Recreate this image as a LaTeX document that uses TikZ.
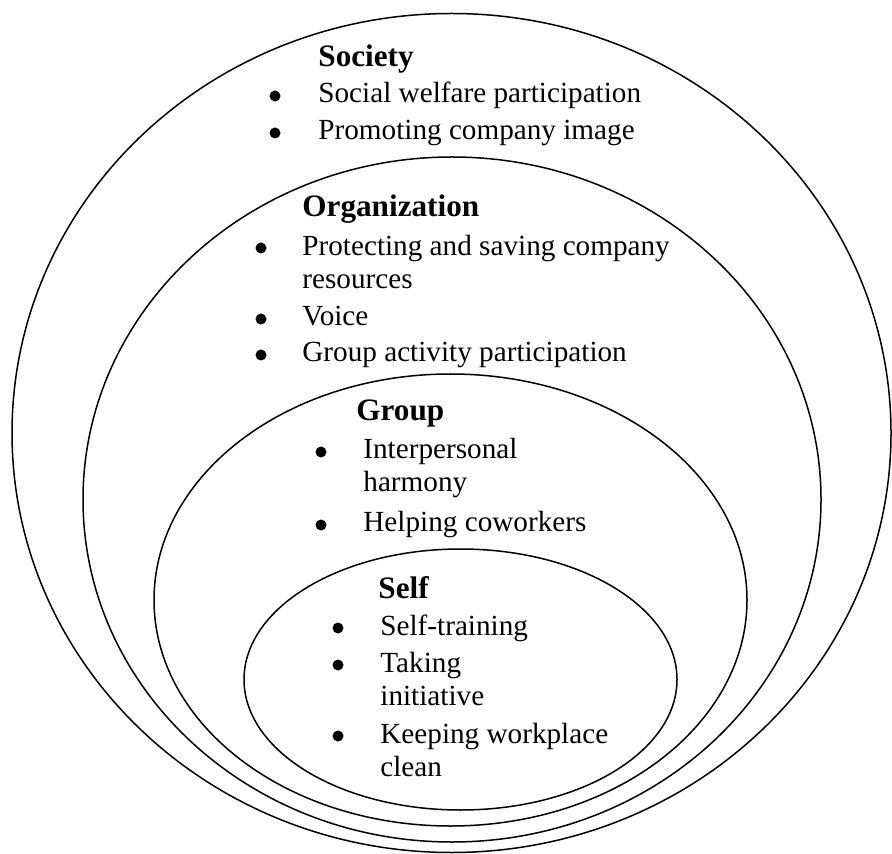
\documentclass[tikz,border=0pt]{standalone}
\usepackage{fontspec}
\setmainfont{Liberation Serif}
\usetikzlibrary{positioning}

\tikzset{
  ring/.style={draw=black,line width=0.75pt},
  head/.style={anchor=base west,inner sep=0pt,font=\fontsize{15.6}{18}\selectfont\bfseries},
  item/.style={anchor=base west,inner sep=0pt,align=left,font=\fontsize{14.6}{16.5}\selectfont},
  dot/.style={circle,fill=black,inner sep=0pt,minimum size=5.5pt}
}

\begin{document}
\begin{tikzpicture}[x=0.5pt,y=-0.5pt]
  \useasboundingbox (0,0) rectangle (892,854);

  % nested rings, outermost first
  \draw[ring] (451.5,433) ellipse [x radius=439.5,y radius=419.5];
  \draw[ring] (452,499.5) ellipse [x radius=369,y radius=342.5];
  \draw[ring] (450.5,600) ellipse [x radius=296.5,y radius=226];
  \draw[ring] (460.5,679.5) ellipse [x radius=216.5,y radius=130.5];

  % society
  \node[head] (society) at (318,67) {Society};
  \node[item] (soc1) at (318,103) {Social welfare participation};
  \node[item] (soc2) at (318,140) {Promoting company image};
  \node[dot] (dsoc1) at (275,96) {};
  \node[dot] (dsoc2) at (275,133) {};

  % organization (two-line items sit on their last baseline)
  \node[head] (org) at (302,217) {Organization};
  \node[item] (org1) at (302,289) {Protecting and saving company\\resources};
  \node[item] (org2) at (302,326) {Voice};
  \node[item] (org3) at (302,362) {Group activity participation};
  \node[dot] (dorg1) at (261,248) {};
  \node[dot] (dorg2) at (261,319) {};
  \node[dot] (dorg3) at (261,355) {};

  % group
  \node[head] (group) at (356,421) {Group};
  \node[item] (grp1) at (363,491) {Interpersonal\\harmony};
  \node[item] (grp2) at (363,531) {Helping coworkers};
  \node[dot] (dgrp1) at (321,452) {};
  \node[dot] (dgrp2) at (321,525) {};

  % self
  \node[head] (self) at (378,598) {Self};
  \node[item] (self1) at (380,635) {Self-training};
  \node[item] (self2) at (380,705) {Taking\\initiative};
  \node[item] (self3) at (380,776) {Keeping workplace\\clean};
  \node[dot] (dself1) at (338,628) {};
  \node[dot] (dself2) at (338,665) {};
  \node[dot] (dself3) at (338,736) {};
\end{tikzpicture}
\end{document}
